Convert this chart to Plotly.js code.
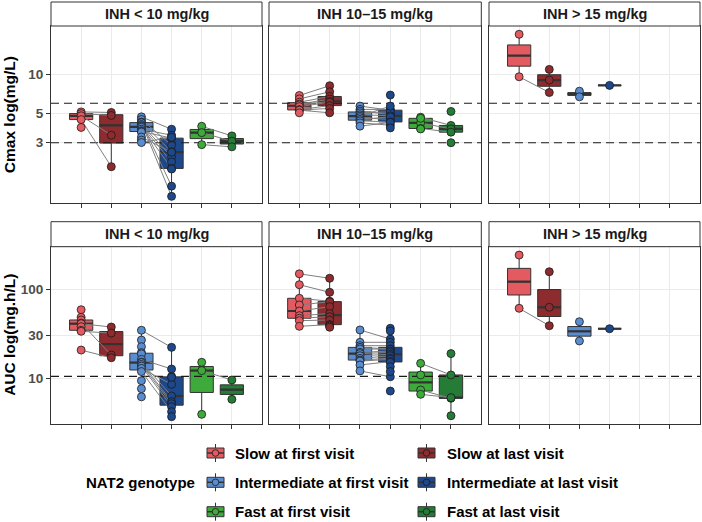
<!DOCTYPE html>
<html><head><meta charset="utf-8">
<script src="https://cdn.plot.ly/plotly-3.0.1.min.js"></script>
<style>html,body{margin:0;padding:0;background:#fff}#chart{width:702px;height:522px}</style>
</head><body><div id="chart"></div>
<script>
// ---------------- DATA ----------------
const doseLabels = ["INH < 10 mg/kg", "INH 10\u201315 mg/kg", "INH > 15 mg/kg"];
const groupLabels = ["Slow at first visit", "Slow at last visit", "Intermediate at first visit",
                     "Intermediate at last visit", "Fast at first visit", "Fast at last visit"];
const legendTitle = "NAT2 genotype";
const cmaxTitle = "Cmax log(mg/L)";
const aucTitle = "AUC log(mg.h/L)";
const cmaxTicks = [3, 5, 10];
const aucTicks = [10, 30, 100];
const cmaxThresholds = [3, 6];
const aucThresholds = [10.52];

// Cmax, INH < 10 mg/kg (paired by index: first visit -> last visit)
const cmax_lt10_slow_first = [5.15, 5.0, 4.81, 4.5, 3.92];
const cmax_lt10_slow_last  = [5.1, 4.84, 3.42, 1.97, null];
const cmax_lt10_int_first  = [4.72, 4.51, 4.30, 4.29, 4.26, 4.13, 4.05, 3.99, 3.93, 3.80, 3.70, 3.66, 3.62, 3.31, 3.14, 3.01, null];
const cmax_lt10_int_last   = [3.80, 2.87, 1.40, 2.56, 1.17, 2.34, 2.14, 1.91, null, 3.42, null, 3.25, null, 2.54, null, 3.30, 1.89];
const cmax_lt10_fast_first = [4.0, 3.58, 2.90];
const cmax_lt10_fast_last  = [3.38, 3.08, 2.79];
// Cmax, INH 10-15 mg/kg
const cmax_mid_slow_first = [6.87, 6.47, 6.11, 5.9, 5.83, 5.65, 5.36, 5.32, 5.31, 5.07];
const cmax_mid_slow_last  = [8.15, 7.33, 6.75, 6.45, 6.2, 6.1, 5.75, 5.47, 5.07, null];
const cmax_mid_int_first  = [5.70, 5.38, 5.22, 5.07, 4.9, 4.78, 4.65, 4.51, 4.40, 4.25, 4.01, null, null];
const cmax_mid_int_last   = [5.31, 5.38, 4.92, 5.15, 4.81, 5.70, 4.51, 4.72, 4.32, 4.08, 4.28, 6.92, 3.89];
const cmax_mid_fast_first = [4.69, 4.25, 3.85, 4.6, 3.82, null, null];
const cmax_mid_fast_last  = [4.06, 3.82, 3.61, null, null, 5.19, 3.0];
// Cmax, INH > 15 mg/kg
const cmax_hi_slow_first = [20.1, 9.54, null, null];
const cmax_hi_slow_last  = [null, 7.24, 10.86, 9.0];
const cmax_hi_int_first  = [7.41, 6.71, null];
const cmax_hi_int_last   = [null, null, 8.20];
const cmax_hi_fast_first = [];
const cmax_hi_fast_last  = [];
// AUC, INH < 10 mg/kg
const auc_lt10_slow_first = [58.6, 48.2, 45.0, 41.5, 40.9, 37.8, 34.5, 33.6, 20.7];
const auc_lt10_slow_last  = [null, null, null, 18.2, 37.5, null, null, 32.1, 17.0];
const auc_lt10_int_first  = [34.5, 26.8, 22.6, 19.4, 18.8, 16.3, 15.2, 15.0, 14.3, 13.7, 12.9, 11.9, 9.4, 7.65, 6.2, null, null, null];
const auc_lt10_int_last   = [22.2, null, null, null, null, 12.7, 6.34, 5.47, 5.2, 4.81, 8.57, 4.23, null, null, null, 10.5, 10.26, 3.72];
const auc_lt10_fast_first = [15.1, 12.2, 3.95, null];
const auc_lt10_fast_last  = [null, 9.57, null, 5.82];
// AUC, INH 10-15 mg/kg
const auc_mid_slow_first = [148, 111.7, 78.7, 66.2, 56.7, 50.3, 47.0, 44.2, 38.2, null, null, null];
const auc_mid_slow_last  = [131.8, 91.8, 73, 72, 63.4, 53, 49, 45, 40, 39.5, 38.5, 37.3];
const auc_mid_int_first  = [34.8, 25.3, 23.2, 22.2, 21.3, 19.5, 18.9, 17.9, 16.7, 16.0, 15.6, 14.1, 12.1, null, null, null, null, null, null];
const auc_mid_int_last   = [27.5, 25.3, 23.2, 21.3, 21.2, 20.2, 19.5, 18.6, 17.9, 16.8, 16.3, 15.4, 10.4, 36.3, 33.9, 15.1, 13.5, 11.9, 7.2];
const auc_mid_fast_first = [14.7, 10.9, 7.4, 6.62, null, null];
const auc_mid_fast_last  = [10.9, null, 5.97, 6.07, 18.9, 3.81];
// AUC, INH > 15 mg/kg
const auc_hi_slow_first = [240, 60.8, null, null];
const auc_hi_slow_last  = [null, 38.8, 156, 62.4];
const auc_hi_int_first  = [43.0, 26.2, null];
const auc_hi_int_last   = [null, null, 35.9];
const auc_hi_fast_first = [];
const auc_hi_fast_last  = [];

const groupColors = ["#E35A60", "#8D2B2E", "#5A8DCF", "#1D488B", "#3DAA3B", "#257C37"];

// ---------------- BUILD ----------------
const W = 702, H = 522;
const PX = x => x / W, PY = y => 1 - y / H;
const FONT = "Liberation Sans, Arial, Helvetica, sans-serif";
const xRange = [0, 7];
const colsPx = [[51, 262], [269, 481.3], [489, 700]];
const rowsPx = [{top: 26, bot: 203.3, stripTop: 2, range: [0.0153, 1.3664]},
                {top: 246.7, bot: 424, stripTop: 221.7, range: [0.4883, 2.4737]}];

const panels = [
  {row: 0, col: 0, th: cmaxThresholds, ticks: cmaxTicks, g: [[cmax_lt10_slow_first, cmax_lt10_slow_last], [cmax_lt10_int_first, cmax_lt10_int_last], [cmax_lt10_fast_first, cmax_lt10_fast_last]]},
  {row: 0, col: 1, th: cmaxThresholds, ticks: cmaxTicks, g: [[cmax_mid_slow_first, cmax_mid_slow_last], [cmax_mid_int_first, cmax_mid_int_last], [cmax_mid_fast_first, cmax_mid_fast_last]]},
  {row: 0, col: 2, th: cmaxThresholds, ticks: cmaxTicks, g: [[cmax_hi_slow_first, cmax_hi_slow_last], [cmax_hi_int_first, cmax_hi_int_last], [cmax_hi_fast_first, cmax_hi_fast_last]]},
  {row: 1, col: 0, th: aucThresholds, ticks: aucTicks, g: [[auc_lt10_slow_first, auc_lt10_slow_last], [auc_lt10_int_first, auc_lt10_int_last], [auc_lt10_fast_first, auc_lt10_fast_last]]},
  {row: 1, col: 1, th: aucThresholds, ticks: aucTicks, g: [[auc_mid_slow_first, auc_mid_slow_last], [auc_mid_int_first, auc_mid_int_last], [auc_mid_fast_first, auc_mid_fast_last]]},
  {row: 1, col: 2, th: aucThresholds, ticks: aucTicks, g: [[auc_hi_slow_first, auc_hi_slow_last], [auc_hi_int_first, auc_hi_int_last], [auc_hi_fast_first, auc_hi_fast_last]]}
];

function boxStats(vals) {
  const v = vals.filter(x => x != null).map(Math.log10).sort((a, b) => a - b);
  const n = v.length;
  const q = p => { const h = (n - 1) * p, lo = Math.floor(h), hi = Math.min(lo + 1, n - 1); return v[lo] + (h - lo) * (v[hi] - v[lo]); };
  const q1 = q(0.25), med = q(0.5), q3 = q(0.75), iqr = q3 - q1;
  const lo = Math.min(...v.filter(x => x >= q1 - 1.5 * iqr));
  const hi = Math.max(...v.filter(x => x <= q3 + 1.5 * iqr));
  return {q1: 10 ** q1, med: 10 ** med, q3: 10 ** q3, lo: 10 ** Math.min(lo, q1), hi: 10 ** Math.max(hi, q3)};
}

const traces = [];
const layout = {
  width: W, height: H, margin: {l: 0, r: 0, t: 0, b: 0},
  paper_bgcolor: "#fff", plot_bgcolor: "#fff", showlegend: false,
  font: {family: FONT}, boxmode: "overlay", shapes: [], annotations: []
};
const BOXW = 0.77;

panels.forEach((p, i) => {
  const k = i + 1, xa = k === 1 ? "x" : "x" + k, ya = k === 1 ? "y" : "y" + k;
  const r = rowsPx[p.row], c = colsPx[p.col];
  layout[k === 1 ? "xaxis" : "xaxis" + k] = {
    domain: [PX(c[0]), PX(c[1])], range: xRange, anchor: ya,
    tickvals: [1, 2, 3, 4, 5, 6], showticklabels: false, ticks: "outside", ticklen: 4, tickwidth: 1, tickcolor: "#333",
    showgrid: true, gridcolor: "#ebebeb", gridwidth: 1, zeroline: false,
    showline: true, mirror: true, linecolor: "#333", linewidth: 1, fixedrange: true
  };
  layout[k === 1 ? "yaxis" : "yaxis" + k] = {
    domain: [PY(r.bot), PY(r.top)], type: "log", range: r.range, anchor: xa,
    tickvals: p.ticks, ticktext: p.ticks.map(String), showticklabels: p.col === 0,
    ticks: p.col === 0 ? "outside" : "", ticklen: 4, tickwidth: 1, tickcolor: "#333",
    tickfont: {family: FONT, size: 13.5, color: "#4d4d4d", weight: "bold"},
    showgrid: true, gridcolor: "#ebebeb", gridwidth: 1, zeroline: false,
    showline: true, mirror: true, linecolor: "#333", linewidth: 1, fixedrange: true
  };
  // strip
  layout.shapes.push({type: "rect", xref: "paper", yref: "paper", x0: PX(c[0]), x1: PX(c[1]), y0: PY(r.top), y1: PY(r.stripTop),
    fillcolor: "#fff", line: {color: "#333", width: 1}});
  layout.annotations.push({xref: "paper", yref: "paper", x: PX((c[0] + c[1]) / 2), y: PY((r.top + r.stripTop) / 2),
    text: doseLabels[p.col], showarrow: false, xanchor: "center", yanchor: "middle",
    font: {family: FONT, size: 14.5, color: "#1a1a1a", weight: "bold"}});

  // thresholds
  p.th.forEach(t => traces.push({type: "scatter", mode: "lines", x: xRange, y: [t, t], xaxis: xa, yaxis: ya,
    line: {color: "#1a1a1a", width: 1.1, dash: "8px,5px"}, hoverinfo: "skip"}));

  // boxes
  const medTraces = [], lineTraces = [], ptTraces = [];
  p.g.forEach((pair, gi) => {
    pair.forEach((arr, v) => {
      const vals = arr.filter(x => x != null);
      if (!vals.length) return;
      const pos = 2 * gi + v + 1, col = groupColors[2 * gi + v];
      const s = boxStats(vals);
      traces.push({type: "box", x: [pos], q1: [s.q1], median: [s.med], q3: [s.q3], lowerfence: [s.lo], upperfence: [s.hi],
        width: BOXW, whiskerwidth: 0, boxpoints: false, fillcolor: col, line: {color: "#333", width: 1},
        xaxis: xa, yaxis: ya, hoverinfo: "skip"});
      medTraces.push({type: "scatter", mode: "lines", x: [pos - BOXW / 2, pos + BOXW / 2], y: [s.med, s.med],
        line: {color: "#333", width: 2.2}, xaxis: xa, yaxis: ya, hoverinfo: "skip"});
      ptTraces.push({type: "scatter", mode: "markers", x: vals.map(() => pos), y: vals, xaxis: xa, yaxis: ya,
        marker: {size: 8, color: col, line: {color: "#1a1a1a", width: 0.8}}, hoverinfo: "skip"});
    });
    const f = pair[0], l = pair[1], lx = [], ly = [];
    for (let j = 0; j < Math.min(f.length, l.length); j++) {
      if (f[j] != null && l[j] != null) { lx.push(2 * gi + 1, 2 * gi + 2, null); ly.push(f[j], l[j], null); }
    }
    if (lx.length) lineTraces.push({type: "scatter", mode: "lines", x: lx, y: ly, xaxis: xa, yaxis: ya,
      line: {color: "#7f7f7f", width: 1}, connectgaps: false, hoverinfo: "skip"});
  });
  traces.push(...medTraces, ...lineTraces, ...ptTraces);
});

// y titles
layout.annotations.push({xref: "paper", yref: "paper", x: PX(9.5), y: PY((rowsPx[0].top + rowsPx[0].bot) / 2), text: cmaxTitle,
  textangle: -90, showarrow: false, xanchor: "center", yanchor: "middle", font: {family: FONT, size: 15.5, color: "#000", weight: "bold"}});
layout.annotations.push({xref: "paper", yref: "paper", x: PX(9.5), y: PY((rowsPx[1].top + rowsPx[1].bot) / 2), text: aucTitle,
  textangle: -90, showarrow: false, xanchor: "center", yanchor: "middle", font: {family: FONT, size: 15.5, color: "#000", weight: "bold"}});

// legend (manual)
const legRows = [453, 482.3, 511.7], legKeyX = [215.5, 426.5], legTextX = [233, 445];
layout.annotations.push({xref: "paper", yref: "paper", x: PX(197), y: PY(legRows[1]), text: legendTitle, showarrow: false,
  xanchor: "right", yanchor: "middle", font: {family: FONT, size: 15, color: "#000", weight: "bold"}});
for (let r = 0; r < 3; r++) for (let c = 0; c < 2; c++) {
  const idx = 2 * r + c, cx = legKeyX[c], cy = legRows[r], col = groupColors[idx];
  layout.shapes.push({type: "line", xref: "paper", yref: "paper", x0: PX(cx), x1: PX(cx), y0: PY(cy - 9), y1: PY(cy + 9), line: {color: "#333", width: 1}});
  layout.shapes.push({type: "rect", xref: "paper", yref: "paper", x0: PX(cx - 8.5), x1: PX(cx + 8.5), y0: PY(cy + 5), y1: PY(cy - 5), fillcolor: col, line: {color: "#333", width: 1}});
  layout.shapes.push({type: "line", xref: "paper", yref: "paper", x0: PX(cx - 8.5), x1: PX(cx + 8.5), y0: PY(cy), y1: PY(cy), line: {color: "#333", width: 1.5}});
  layout.shapes.push({type: "circle", xref: "paper", yref: "paper", x0: PX(cx - 3.3), x1: PX(cx + 3.3), y0: PY(cy + 3.3), y1: PY(cy - 3.3), fillcolor: col, line: {color: "#1a1a1a", width: 0.8}});
  layout.annotations.push({xref: "paper", yref: "paper", x: PX(legTextX[c]), y: PY(cy), text: groupLabels[idx], showarrow: false,
    xanchor: "left", yanchor: "middle", font: {family: FONT, size: 15, color: "#000", weight: "bold"}});
}

Plotly.newPlot("chart", traces, layout, {staticPlot: true, displayModeBar: false});
</script>
</body></html>
